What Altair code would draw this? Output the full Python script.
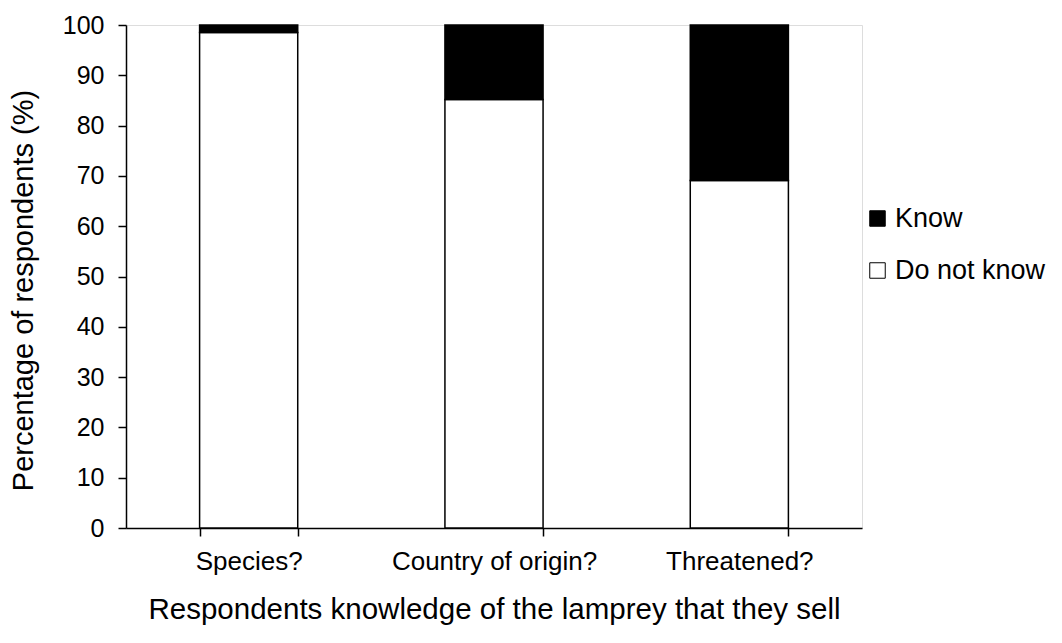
import altair as alt
import pandas as pd

categories = ["Species?", "Country of origin?", "Threatened?"]
do_not_know = [98.5, 85.2, 69.1]
know = [1.5, 14.8, 30.9]
series = ["Know", "Do not know"]

rows = []
for c, d, k in zip(categories, do_not_know, know):
    rows.append({"question": c, "response": "Do not know", "value": d, "ord": 0})
    rows.append({"question": c, "response": "Know", "value": k, "ord": 1})
df = pd.DataFrame(rows)

FONT = "Liberation Sans"

bars = alt.Chart(df).mark_bar(stroke="black", strokeWidth=1.5).encode(
    x=alt.X("question:N", sort=categories,
            scale=alt.Scale(paddingInner=0.6, paddingOuter=0.3),
            axis=alt.Axis(title="Respondents knowledge of the lamprey that they sell",
                          labelAngle=0, tickBand="extent", tickSize=8,
                          labelPadding=12, titlePadding=21, labelLimit=0,
                          domainColor="black", tickColor="black",
                          domainWidth=1.5, tickWidth=1.5,
                          labelFontSize=26, titleFontSize=29.5,
                          labelFont=FONT, titleFont=FONT,
                          labelColor="black", titleColor="black",
                          titleFontWeight="normal")),
    y=alt.Y("value:Q", stack="zero",
            scale=alt.Scale(domain=[0, 100]),
            axis=alt.Axis(title="Percentage of respondents (%)", values=list(range(0, 101, 10)),
                          grid=False, tickSize=8, labelPadding=14, titlePadding=24,
                          titleY=265,
                          domainColor="black", tickColor="black",
                          domainWidth=1.5, tickWidth=1.5,
                          labelFontSize=25, titleFontSize=29,
                          labelFont=FONT, titleFont=FONT,
                          labelColor="black", titleColor="black",
                          titleFontWeight="normal")),
    color=alt.Color("response:N",
                    scale=alt.Scale(domain=series, range=["black", "white"]),
                    legend=alt.Legend(title=None, orient="none", legendX=738, legendY=180,
                                      symbolType="square", symbolSize=240,
                                      symbolStrokeColor="black", symbolStrokeWidth=1,
                                      labelFontSize=27, labelFont=FONT, labelColor="black",
                                      rowPadding=24, labelOffset=4)),
    order=alt.Order("ord:Q"),
)

chart = bars.properties(
    width=736, height=503,
    autosize=alt.AutoSizeParams(type="none"),
    padding={"left": 118, "top": 17, "right": 190, "bottom": 107},
).configure_view(stroke=None).configure(background="white")

chart.save("out.html", embed_options={"renderer": "svg", "actions": False})
